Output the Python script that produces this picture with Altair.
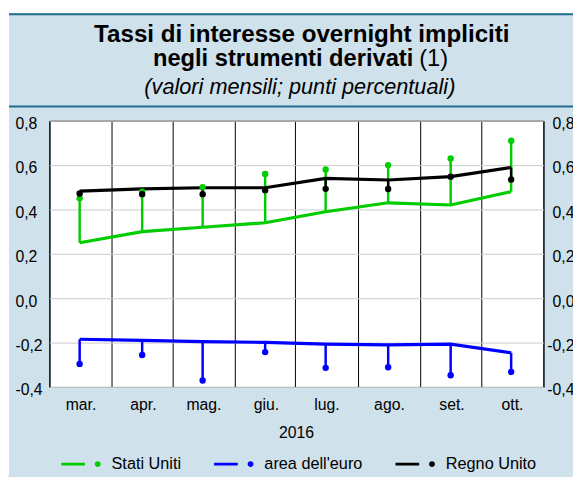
import altair as alt
import pandas as pd

# ---------------- data ----------------
dates = ["2016-03-16", "2016-04-16", "2016-05-16", "2016-06-16",
         "2016-07-16", "2016-08-16", "2016-09-16", "2016-10-16"]
month_starts = [3, 4, 5, 6, 7, 8, 9, 10, 11]          # grid lines (month numbers)
month_labels = ["mar.", "apr.", "mag.", "giu.", "lug.", "ago.", "set.", "ott."]

countries = ["Stati Uniti", "area dell'euro", "Regno Unito"]
colors = ["#00cc00", "#0000ff", "#000000"]

us_line = [0.25, 0.30, 0.32, 0.34, 0.39, 0.43, 0.42, 0.48]
us_dot = [0.45, 0.48, 0.50, 0.56, 0.58, 0.60, 0.63, 0.71]
ea_line = [-0.185, -0.190, -0.196, -0.199, -0.207, -0.210, -0.207, -0.246]
ea_dot = [-0.296, -0.256, -0.371, -0.243, -0.314, -0.311, -0.347, -0.332]
uk_line = [0.483, 0.493, 0.498, 0.498, 0.540, 0.533, 0.548, 0.589]
uk_dot = [0.472, 0.469, 0.469, 0.487, 0.493, 0.492, 0.548, 0.535]

y_ticks = [-0.4, -0.2, 0.0, 0.2, 0.4, 0.6, 0.8]

title_1 = "Tassi di interesse overnight impliciti"
title_2a = "negli strumenti derivati"
title_2b = "(1)"
title_3 = "(valori mensili; punti percentuali)"
x_title = "2016"

FONT = "Liberation Sans"

rows = []
for c, ln, dt in zip(countries, [us_line, ea_line, uk_line], [us_dot, ea_dot, uk_dot]):
    for d, a, b in zip(dates, ln, dt):
        rows.append({"date": d, "country": c, "line": a, "dot": b})
df = pd.DataFrame(rows)

# month label lookup array (index = utc month 0..11)
names = [""] * 12
for m, lab in zip(month_starts, month_labels):
    names[m - 1] = lab
names_js = "[" + ",".join("'" + n + "'" for n in names) + "]"

x_scale = alt.Scale(type="utc",
                    domain=[alt.DateTime(year=2016, month=3, date=1, utc=True),
                            alt.DateTime(year=2016, month=11, date=1, utc=True)])
x_axis = alt.Axis(
    values=[alt.DateTime(year=2016, month=m, date=1, utc=True) for m in month_starts],
    labelExpr=names_js + "[utcmonth(datum.value)]",
    grid=True, gridColor="#000000", gridWidth=1, gridOpacity=1,
    domain=False, ticks=False, tickSize=0,
    labelFontSize=16, labelFont=FONT, labelColor="#000000",
    labelOffset=31.5, labelPadding=23, labelBaseline="alphabetic",
    labelFlush=False, labelOverlap=False,
    title=x_title, titleFontSize=16, titleFont=FONT, titleFontWeight="normal",
    titleColor="#000000", titleBaseline="alphabetic", titleY=51, titleX=250,
)
X = alt.X("date:T", scale=x_scale, axis=x_axis)

y_scale = alt.Scale(domain=[-0.4, 0.8], nice=False, zero=False)
lab_expr = "(datum.value < -0.0001 ? '-' : '') + replace(format(abs(datum.value), '.1f'), '.', ',')"
y_axis_left = alt.Axis(
    orient="left", values=y_ticks, labelExpr=lab_expr,
    grid=True, gridColor="#cccccc", gridWidth=1,
    domain=False, ticks=False, tickSize=0,
    labelAlign="left", labelPadding=35, labelBaseline="middle", labelOffset=3,
    labelFontSize=16, labelFont=FONT, labelColor="#000000", title=None,
)
y_axis_right = alt.Axis(
    orient="right", values=y_ticks, labelExpr=lab_expr,
    grid=False, domain=False, ticks=False, tickSize=0,
    labelAlign="right", labelPadding=31, labelBaseline="middle", labelOffset=3,
    labelFontSize=16, labelFont=FONT, labelColor="#000000", title=None,
)

color_scale = alt.Scale(domain=countries, range=colors)

legend = alt.Legend(
    title=None, orient="none", legendX=12, legendY=328,
    direction="horizontal", columns=3, columnPadding=33,
    symbolType="M-1,-0.075H0.2V0.075H-1Z M0.7,0A0.15,0.15 0 1,0 1.0,0A0.15,0.15 0 1,0 0.7,0Z",
    symbolSize=1600, symbolStrokeWidth=0, symbolOpacity=1,
    labelFontSize=16.5, labelFont=FONT, labelColor="#000000", labelOffset=11,
    padding=0,
)

base = alt.Chart(df)

stems = base.mark_rule(strokeWidth=2.5).encode(
    x=X,
    y=alt.Y("line:Q", scale=y_scale, axis=y_axis_left),
    y2="dot:Q",
    color=alt.Color("country:N", scale=color_scale, legend=None),
)
lines = base.mark_line(strokeWidth=3.2).encode(
    x=X,
    y=alt.Y("line:Q", scale=y_scale, axis=None),
    color=alt.Color("country:N", scale=color_scale, legend=None),
)
dots = base.mark_circle(size=42, opacity=1).encode(
    x=X,
    y=alt.Y("dot:Q", scale=y_scale, axis=y_axis_right),
    color=alt.Color("country:N", scale=color_scale, legend=legend),
)

# ---------------- decorations ----------------
one = pd.DataFrame({"k": [0]})
deco = alt.Chart(one)

white_top = deco.mark_rect(color="white").encode(
    x=alt.value(-45), x2=alt.value(540), y=alt.value(-115), y2=alt.value(-109))
white_left = deco.mark_rect(color="white").encode(
    x=alt.value(-45), x2=alt.value(-41), y=alt.value(-115), y2=alt.value(360))
rule_top = deco.mark_rule(color="#1f6e8c", strokeWidth=2).encode(
    x=alt.value(-41), x2=alt.value(540), y=alt.value(-108))
rule_mid = deco.mark_rule(color="#1f6e8c", strokeWidth=2).encode(
    x=alt.value(-41), x2=alt.value(540), y=alt.value(-14.5))

t1 = deco.mark_text(font=FONT, fontSize=24.5, fontWeight="bold", align="center",
                    baseline="alphabetic", color="black").encode(
    x=alt.value(256), y=alt.value(-80), text=alt.value(title_1))
t2a = deco.mark_text(font=FONT, fontSize=24, fontWeight="bold", align="right",
                     baseline="alphabetic", color="black").encode(
    x=alt.value(369), y=alt.value(-55.5), text=alt.value(title_2a))
t2b = deco.mark_text(font=FONT, fontSize=24, fontWeight="normal", align="left",
                     baseline="alphabetic", color="black").encode(
    x=alt.value(375), y=alt.value(-55.5), text=alt.value(title_2b))
t3 = deco.mark_text(font=FONT, fontSize=22, fontStyle="italic", align="center",
                    baseline="alphabetic", color="black").encode(
    x=alt.value(254), y=alt.value(-27), text=alt.value(title_3))

chart = alt.layer(
    white_top, white_left, rule_top, rule_mid, t1, t2a, t2b, t3,
    stems, lines, dots,
).resolve_scale(y="shared").resolve_axis(y="independent").resolve_legend(
    color="independent"
).properties(
    width=501, height=270,
    autosize=alt.AutoSizeParams(type="none"),
    padding={"left": 42, "top": 111, "right": 30, "bottom": 88},
    background="#cfe1eb",
).configure_view(
    stroke="#000000", strokeWidth=1, fill="white",
)

chart.save("out.html", embed_options={"renderer": "svg", "actions": False})
